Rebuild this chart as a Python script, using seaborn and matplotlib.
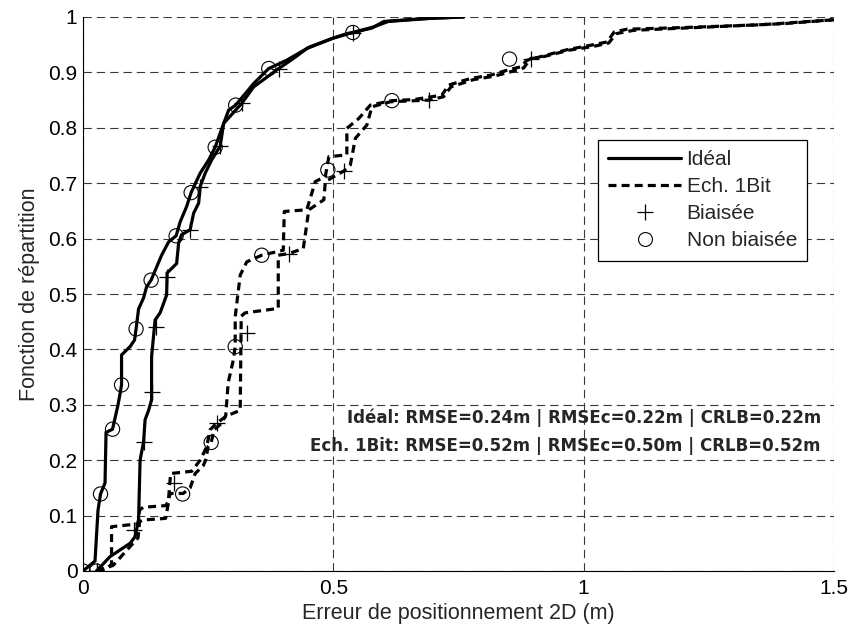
import numpy as np
import pandas as pd
import matplotlib
matplotlib.use("Agg")
import matplotlib.pyplot as plt
from matplotlib.lines import Line2D
import seaborn as sns

# ---- Data ----
# Idéal, non biaisée (solid, circles)
ideal_nb_x = [0.0, 0.024, 0.024, 0.030, 0.035, 0.044, 0.046, 0.059, 0.070, 0.074, 0.077, 0.077,
              0.094, 0.103, 0.106, 0.111, 0.121, 0.127, 0.136, 0.157, 0.171, 0.186, 0.194, 0.207,
              0.216, 0.234, 0.251, 0.264, 0.281, 0.291, 0.305, 0.341, 0.371, 0.407, 0.447, 0.497,
              0.527, 0.539, 0.577, 0.601, 0.680, 0.760]
ideal_nb_y = [0.0, 0.018, 0.018, 0.110, 0.139, 0.159, 0.250, 0.256, 0.300, 0.320, 0.336, 0.390,
              0.405, 0.417, 0.437, 0.473, 0.493, 0.513, 0.525, 0.570, 0.594, 0.605, 0.630, 0.658,
              0.683, 0.718, 0.742, 0.765, 0.808, 0.832, 0.841, 0.880, 0.907, 0.922, 0.943, 0.961,
              0.970, 0.972, 0.980, 0.992, 0.997, 1.0]
ideal_nb_mx = [0.0, 0.035, 0.059, 0.077, 0.106, 0.136, 0.186, 0.216, 0.264, 0.305, 0.371, 0.539]
ideal_nb_my = [0.0, 0.139, 0.256, 0.336, 0.437, 0.525, 0.605, 0.683, 0.765, 0.841, 0.907, 0.972]

# Idéal, biaisée (solid, plus)
ideal_b_x = [0.027, 0.054, 0.094, 0.104, 0.111, 0.114, 0.121, 0.124, 0.131, 0.137, 0.137, 0.144,
             0.154, 0.167, 0.168, 0.187, 0.191, 0.197, 0.214, 0.221, 0.231, 0.234, 0.244, 0.257,
             0.274, 0.281, 0.317, 0.341, 0.391, 0.420, 0.450, 0.500, 0.539, 0.580, 0.610, 0.700, 0.760]
ideal_b_y = [0.0, 0.026, 0.050, 0.062, 0.092, 0.200, 0.233, 0.273, 0.290, 0.309, 0.387, 0.453,
             0.466, 0.498, 0.538, 0.555, 0.592, 0.607, 0.616, 0.646, 0.664, 0.694, 0.718, 0.742,
             0.767, 0.808, 0.844, 0.874, 0.907, 0.925, 0.945, 0.962, 0.972, 0.982, 0.992, 0.998, 1.0]
ideal_b_mx = [0.027, 0.101, 0.121, 0.137, 0.146, 0.167, 0.214, 0.234, 0.274, 0.317, 0.391, 0.539]
ideal_b_my = [0.0, 0.074, 0.233, 0.324, 0.441, 0.531, 0.616, 0.694, 0.767, 0.844, 0.907, 0.972]

# Ech. 1Bit, non biaisée (dashed, circles)
ech_nb_x = [0.027, 0.045, 0.057, 0.057, 0.110, 0.113, 0.120, 0.165, 0.170, 0.174, 0.200, 0.214,
            0.224, 0.240, 0.245, 0.250, 0.256, 0.262, 0.275, 0.285, 0.290, 0.300, 0.304, 0.304,
            0.314, 0.327, 0.357, 0.400, 0.402, 0.447, 0.464, 0.484, 0.491, 0.527, 0.527, 0.551,
            0.574, 0.617, 0.661, 0.717, 0.730, 0.774, 0.814, 0.847, 0.874, 0.887, 0.967, 1.014,
            1.047, 1.061, 1.087, 1.200, 1.354, 1.500]
ech_nb_y = [0.0, 0.003, 0.012, 0.080, 0.085, 0.110, 0.115, 0.118, 0.125, 0.140, 0.140, 0.150,
            0.176, 0.190, 0.200, 0.225, 0.232, 0.255, 0.265, 0.280, 0.340, 0.380, 0.405, 0.459,
            0.534, 0.558, 0.570, 0.579, 0.649, 0.652, 0.703, 0.712, 0.748, 0.751, 0.799, 0.817,
            0.841, 0.849, 0.851, 0.859, 0.877, 0.889, 0.895, 0.904, 0.910, 0.922, 0.941, 0.949,
            0.955, 0.973, 0.978, 0.981, 0.986, 0.995]
ech_nb_mx = [0.027, 0.199, 0.256, 0.304, 0.357, 0.489, 0.617, 0.852]
ech_nb_my = [0.0, 0.139, 0.232, 0.405, 0.570, 0.724, 0.849, 0.924]

# Ech. 1Bit, biaisée (dashed, plus)
ech_b_x = [0.027, 0.060, 0.100, 0.110, 0.113, 0.120, 0.165, 0.170, 0.175, 0.217, 0.234, 0.247,
           0.254, 0.267, 0.287, 0.314, 0.316, 0.324, 0.390, 0.390, 0.411, 0.440, 0.451, 0.481,
           0.484, 0.521, 0.534, 0.544, 0.567, 0.577, 0.614, 0.691, 0.720, 0.735, 0.780, 0.820,
           0.850, 0.880, 0.894, 0.914, 0.970, 1.020, 1.050, 1.065, 1.100, 1.250, 1.400, 1.500]
ech_b_y = [0.0, 0.010, 0.050, 0.060, 0.089, 0.092, 0.095, 0.120, 0.176, 0.180, 0.200, 0.224,
           0.255, 0.267, 0.280, 0.290, 0.460, 0.466, 0.474, 0.570, 0.573, 0.582, 0.652, 0.670,
           0.703, 0.722, 0.733, 0.781, 0.805, 0.838, 0.847, 0.850, 0.856, 0.874, 0.887, 0.893,
           0.900, 0.908, 0.925, 0.927, 0.940, 0.947, 0.953, 0.970, 0.976, 0.982, 0.988, 0.995]
ech_b_mx = [0.027, 0.181, 0.267, 0.327, 0.411, 0.521, 0.691, 0.894]
ech_b_my = [0.0, 0.158, 0.267, 0.429, 0.573, 0.722, 0.850, 0.925]

x_ticks = [0, 0.5, 1, 1.5]
x_ticklabels = ["0", "0.5", "1", "1.5"]
y_ticks = [0, 0.1, 0.2, 0.3, 0.4, 0.5, 0.6, 0.7, 0.8, 0.9, 1]
y_ticklabels = ["0", "0.1", "0.2", "0.3", "0.4", "0.5", "0.6", "0.7", "0.8", "0.9", "1"]
legend_labels = ["Idéal", "Ech. 1Bit", "Biaisée", "Non biaisée"]
annot_lines = ["Idéal: RMSE=0.24m | RMSEc=0.22m | CRLB=0.22m",
               "Ech. 1Bit: RMSE=0.52m | RMSEc=0.50m | CRLB=0.52m"]

# ---- Style ----
sns.set_style("white")
plt.rcParams["font.family"] = ["Liberation Sans", "DejaVu Sans"]

fig = plt.figure(figsize=(8.53, 6.29), dpi=100)
ax = fig.add_axes([83 / 853, 58 / 629, 751 / 853, 554 / 629])

LW = 2.3
DASH = (2.5, 1.6)

def curve(x, y, dashed):
    df = pd.DataFrame({"x": x, "y": y})
    sns.lineplot(data=df, x="x", y="y", ax=ax, sort=False, estimator=None,
                 color="black", linewidth=LW, zorder=3)
    ln = ax.lines[-1]
    if dashed:
        ln.set_dashes(DASH)
    ln.set_solid_joinstyle("miter")

def marks(x, y, kind):
    df = pd.DataFrame({"x": x, "y": y})
    if kind == "o":
        sns.scatterplot(data=df, x="x", y="y", ax=ax, marker="o", s=105,
                        facecolor="none", edgecolor="black", linewidth=0.8, zorder=4)
    else:
        sns.scatterplot(data=df, x="x", y="y", ax=ax, marker="+", s=125,
                        color="black", linewidth=0.9, zorder=4)

curve(ideal_nb_x, ideal_nb_y, False)
curve(ideal_b_x, ideal_b_y, False)
curve(ech_nb_x, ech_nb_y, True)
curve(ech_b_x, ech_b_y, True)
marks(ideal_nb_mx, ideal_nb_my, "o")
marks(ideal_b_mx, ideal_b_my, "+")
marks(ech_nb_mx, ech_nb_my, "o")
marks(ech_b_mx, ech_b_my, "+")

ax.set_xlim(0, 1.5)
ax.set_ylim(0, 1)
ax.set_xticks(x_ticks)
ax.set_xticklabels(x_ticklabels)
ax.set_yticks(y_ticks)
ax.set_yticklabels(y_ticklabels)
ax.tick_params(direction="in", length=4, labelsize=15, colors="black")
ax.tick_params(axis="x", pad=6)
ax.tick_params(axis="y", pad=4)
ax.grid(True, color="#383838", linestyle=(0, (7.5, 4.5)), linewidth=0.8)
for s in ["top", "right"]:
    ax.spines[s].set_visible(False)
for s in ["left", "bottom"]:
    ax.spines[s].set_color("black")
    ax.spines[s].set_linewidth(0.8)
ax.set_xlabel("Erreur de positionnement 2D (m)", fontsize=15.5, labelpad=3)
ax.set_ylabel("Fonction de répartition", fontsize=15.5, labelpad=6)

# annotation text
ax.text(1.474, 0.277, annot_lines[0], ha="right", va="center",
        fontsize=12, fontweight="bold", family="DejaVu Sans")
ax.text(1.474, 0.225, annot_lines[1], ha="right", va="center",
        fontsize=12, fontweight="bold", family="DejaVu Sans")

handles = [
    Line2D([], [], color="black", linewidth=LW),
    Line2D([], [], color="black", linewidth=LW, dashes=DASH),
    Line2D([], [], color="black", linestyle="none", marker="+", markersize=11, markeredgewidth=0.9),
    Line2D([], [], color="black", linestyle="none", marker="o", markersize=10,
           markerfacecolor="none", markeredgewidth=0.8),
]
leg = ax.legend(handles, legend_labels, loc="upper left",
                bbox_to_anchor=(598 / 853, (629 - 140) / 629), bbox_transform=fig.transFigure,
                fontsize=15, frameon=True, fancybox=False, handlelength=3.5,
                handletextpad=0.25, borderpad=0.5, borderaxespad=0, labelspacing=0.38)
leg.get_frame().set_edgecolor("black")
leg.get_frame().set_linewidth(0.9)
leg.get_frame().set_alpha(1)

fig.savefig("out.png", dpi=100)
